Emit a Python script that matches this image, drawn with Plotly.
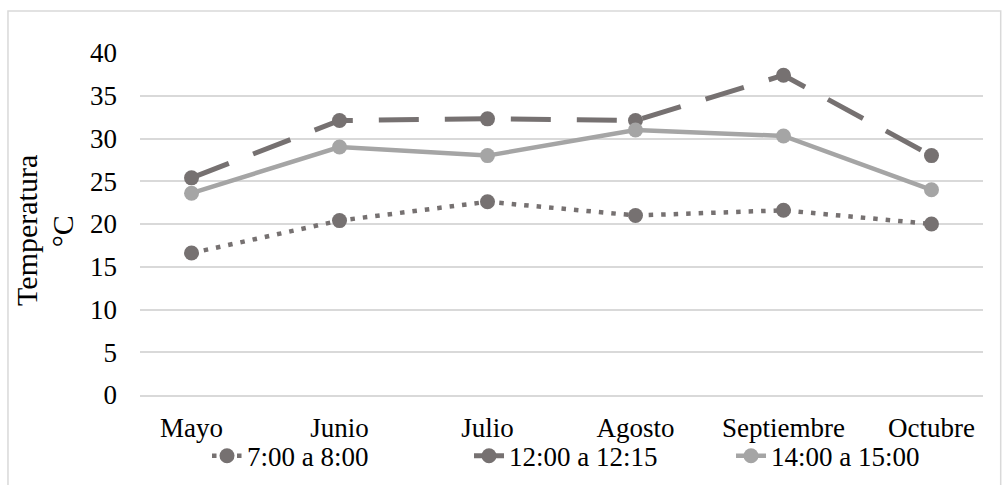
import plotly.graph_objects as go

# Monthly average temperatures (°C) for three time windows
meses = ["Mayo", "Junio", "Julio", "Agosto", "Septiembre", "Octubre"]
temp_7_8 = [16.6, 20.4, 22.6, 21.0, 21.6, 20.0]
temp_12_1215 = [25.4, 32.1, 32.3, 32.1, 37.4, 28.0]
temp_14_15 = [23.6, 29.0, 28.0, 31.0, 30.3, 24.0]
y_ticks = [0, 5, 10, 15, 20, 25, 30, 35, 40]
y_title_lines = ["Temperatura", "°C"]

DARK = "#767171"
LIGHT = "#A5A5A5"
GRID = "#D9D9D9"
FONT = "Liberation Serif"

fig = go.Figure()
fig.add_trace(go.Scatter(
    x=meses, y=temp_7_8, name="7:00 a 8:00", mode="lines+markers",
    line=dict(color=DARK, width=4.5, dash="4.5px,8px"),
    marker=dict(color=DARK, size=15),
))
fig.add_trace(go.Scatter(
    x=meses, y=temp_12_1215, name="12:00 a 12:15", mode="lines+markers",
    line=dict(color=DARK, width=5, dash="40px,26px"),
    marker=dict(color=DARK, size=15),
))
fig.add_trace(go.Scatter(
    x=meses, y=temp_14_15, name="14:00 a 15:00", mode="lines+markers",
    line=dict(color=LIGHT, width=4.5),
    marker=dict(color=LIGHT, size=15),
))

# Two-line vertical axis title with tight line spacing
title_annotations = [
    dict(text=y_title_lines[0], xref="paper", yref="paper", x=-0.134, y=0.48,
         xanchor="center", yanchor="middle", textangle=-90, showarrow=False,
         font=dict(family=FONT, size=30, color="#000000")),
    dict(text=y_title_lines[1], xref="paper", yref="paper", x=-0.092, y=0.48,
         xanchor="center", yanchor="middle", textangle=-90, showarrow=False,
         font=dict(family=FONT, size=30, color="#000000")),
]

fig.update_layout(
    width=1002, height=485,
    margin=dict(l=140, r=19, t=53, b=90, autoexpand=False),
    paper_bgcolor="white", plot_bgcolor="white",
    font=dict(family=FONT, size=27, color="#000000"),
    showlegend=True,
    legend=dict(
        orientation="h",
        xref="container", x=0.2066, xanchor="left",
        yref="container", y=0.11, yanchor="top",
        bgcolor="rgba(0,0,0,0)",
        font=dict(family=FONT, size=27, color="#000000"),
        itemwidth=30, entrywidth=217, entrywidthmode="pixels",
    ),
    annotations=title_annotations,
    shapes=[dict(
        type="rect", xref="paper", yref="paper",
        x0=-0.1566, x1=1.021, y0=-0.35, y1=1.1228,
        line=dict(color=GRID, width=1.5), layer="below",
    )],
)
fig.update_xaxes(
    type="category", showgrid=False, showline=True, linecolor=GRID, linewidth=1.5,
    ticks="", ticklabelstandoff=8, tickfont=dict(family=FONT, size=27),
    automargin=False,
)
fig.update_yaxes(
    range=[0, 40], tickvals=y_ticks, showgrid=True, gridcolor=GRID, gridwidth=1.5,
    zeroline=False, showline=False, ticks="", ticklabelstandoff=22,
    tickfont=dict(family=FONT, size=27), automargin=False,
)

fig.write_html("out.html")
